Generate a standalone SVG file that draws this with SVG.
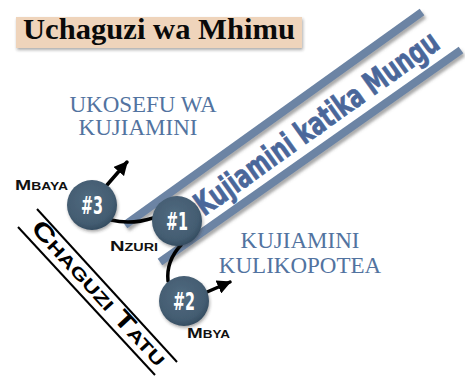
<svg xmlns="http://www.w3.org/2000/svg" width="465" height="377" viewBox="0 0 465 377">
  <defs>
    <style>
      .bar { stroke: #6c84a4; stroke-width: 8; fill: none; filter: url(#sh); }
      .blue { font-family: "Liberation Serif", "Times New Roman", serif; font-size: 23px; fill: #5273a0; text-anchor: middle; }
      .lbl { font-family: "Liberation Sans", Arial, sans-serif; font-weight: bold; font-size: 14px; font-variant: small-caps; fill: #111; }
      .num { font-family: "Liberation Sans Narrow", "DejaVu Sans Condensed", "Liberation Sans", sans-serif; font-weight: bold; font-size: 24px; fill: #ffffff; }
      .node circle { fill: url(#cg); filter: url(#sh2); }
      .conn { stroke: #000; stroke-width: 3.5; fill: none; stroke-linecap: round; }
    </style>
    <radialGradient id="cg" cx="0.45" cy="0.4" r="0.6">
      <stop offset="0" stop-color="#516b80"/>
      <stop offset="0.8" stop-color="#435c71"/>
      <stop offset="1" stop-color="#354d61"/>
    </radialGradient>
    <filter id="sh" x="-10%" y="-10%" width="130%" height="130%">
      <feDropShadow dx="2" dy="3" stdDeviation="1.5" flood-color="#555" flood-opacity="0.5"/>
    </filter>
    <filter id="sh2" x="-20%" y="-20%" width="150%" height="150%">
      <feDropShadow dx="1" dy="2" stdDeviation="1.5" flood-color="#333" flood-opacity="0.4"/>
    </filter>
    <marker id="ah" viewBox="0 0 10 10" refX="9" refY="5" markerWidth="4" markerHeight="4" orient="auto" markerUnits="strokeWidth">
      <path d="M0,0 L10,5 L0,10 z" fill="#000"/>
    </marker>
  </defs>

  <rect width="465" height="377" fill="#ffffff"/>

  <g id="title">
    <rect x="16" y="17" width="286" height="31" fill="#efd4bb" filter="url(#sh2)"/>
    <text x="159" y="39" text-anchor="middle" font-family="Liberation Serif, Times New Roman, serif" font-weight="bold" font-size="29" fill="#0a0a0a" textLength="272" lengthAdjust="spacingAndGlyphs">Uchaguzi wa Mhimu</text>
  </g>

  <g id="band">
    <line class="bar" x1="125" y1="225" x2="422" y2="12"/>
    <line class="bar" x1="160" y1="262" x2="461" y2="50"/>
    <text transform="translate(204,216.8) rotate(-35.5)" font-family="Liberation Sans Narrow, DejaVu Sans Condensed, Liberation Sans, sans-serif" font-weight="bold" font-size="32" fill="#4a679a" stroke="#4a679a" stroke-width="0.7" textLength="292" lengthAdjust="spacingAndGlyphs">Kujiamini katika Mungu</text>
  </g>

  <g id="chaguzi">
    <line x1="37" y1="209" x2="177" y2="362" stroke="#000" stroke-width="2"/>
    <line x1="18" y1="227" x2="155" y2="375" stroke="#000" stroke-width="2"/>
    <text transform="translate(30,229) rotate(47.5)" font-family="Liberation Sans, Arial, sans-serif" font-weight="bold" font-size="24" font-variant="small-caps" fill="#000" textLength="188" lengthAdjust="spacingAndGlyphs">Chaguzi Tatu</text>
  </g>

  <g id="outcome-ukosefu">
    <text class="blue" x="143" y="112">UKOSEFU WA</text>
    <text class="blue" x="138" y="135">KUJIAMINI</text>
  </g>
  <g id="outcome-kulikopotea">
    <text class="blue" x="300" y="248">KUJIAMINI</text>
    <text class="blue" x="300" y="273">KULIKOPOTEA</text>
  </g>

  <g id="connectors">
    <path class="conn" d="M111,220 Q131,225 153,218"/>
    <path class="conn" d="M181,245 Q166,261 168,281"/>
    <path class="conn" d="M107,185 L127,162" marker-end="url(#ah)"/>
    <path class="conn" d="M207,292 L230,282" marker-end="url(#ah)"/>
  </g>

  <g id="node3" class="node">
    <circle cx="92" cy="205" r="25"/>
    <text class="num" x="81" y="213.5" textLength="22" lengthAdjust="spacingAndGlyphs">#3</text>
  </g>
  <g id="node1" class="node">
    <circle cx="177" cy="221" r="25"/>
    <text class="num" x="166" y="229.5" textLength="22" lengthAdjust="spacingAndGlyphs">#1</text>
  </g>
  <g id="node2" class="node">
    <circle cx="184" cy="301" r="25"/>
    <text class="num" x="173" y="309.5" textLength="22" lengthAdjust="spacingAndGlyphs">#2</text>
  </g>

  <g id="labels">
    <text class="lbl" x="15" y="190" textLength="53" lengthAdjust="spacingAndGlyphs">Mbaya</text>
    <text class="lbl" x="110" y="251" textLength="48" lengthAdjust="spacingAndGlyphs">Nzuri</text>
    <text class="lbl" x="187" y="338" textLength="43" lengthAdjust="spacingAndGlyphs">Mbya</text>
  </g>
</svg>
